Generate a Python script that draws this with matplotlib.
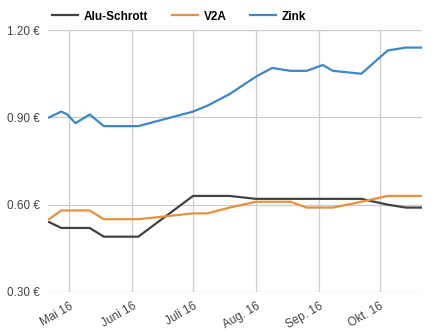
import datetime as dt
import matplotlib
matplotlib.use("Agg")
import matplotlib.pyplot as plt
import matplotlib.dates as mdates

plt.rcParams['font.family'] = ['Liberation Sans', 'DejaVu Sans']

dates = ["2016-04-21", "2016-04-27", "2016-04-30", "2016-05-04", "2016-05-11",
         "2016-05-18", "2016-06-04", "2016-07-01", "2016-07-08", "2016-07-19",
         "2016-08-01", "2016-08-09", "2016-08-18", "2016-08-26", "2016-09-03",
         "2016-09-08", "2016-09-22", "2016-10-05", "2016-10-14", "2016-10-22"]
alu = [0.54, 0.52, 0.52, 0.52, 0.52, 0.49, 0.49, 0.63, 0.63, 0.63,
       0.62, 0.62, 0.62, 0.62, 0.62, 0.62, 0.62, 0.60, 0.59, 0.59]
v2a = [0.55, 0.58, 0.58, 0.58, 0.58, 0.55, 0.55, 0.57, 0.57, 0.59,
       0.61, 0.61, 0.61, 0.59, 0.59, 0.59, 0.61, 0.63, 0.63, 0.63]
zink = [0.90, 0.92, 0.91, 0.88, 0.91, 0.87, 0.87, 0.92, 0.94, 0.98,
        1.04, 1.07, 1.06, 1.06, 1.08, 1.06, 1.05, 1.13, 1.14, 1.14]
series_names = ["Alu-Schrott", "V2A", "Zink"]
colors = ["#424242", "#e8913a", "#3d86c9"]

month_ticks = ["2016-05-01", "2016-06-01", "2016-07-01", "2016-08-01", "2016-09-01", "2016-10-01"]
month_labels = ["Mai 16", "Juni 16", "Juli 16", "Aug. 16", "Sep. 16", "Okt. 16"]
y_ticks = [0.30, 0.60, 0.90, 1.20]

x = [dt.datetime.strptime(d, "%Y-%m-%d") for d in dates]
xt = [dt.datetime.strptime(d, "%Y-%m-%d") for d in month_ticks]

fig = plt.figure(figsize=(4.33, 3.31), dpi=100)
ax = fig.add_axes([0.111, 0.118, 0.864, 0.791])

for vals, name, c in zip([alu, v2a, zink], series_names, colors):
    ax.plot(x, vals, color=c, lw=1.6, label=name, solid_joinstyle='round')

ax.set_xlim(x[0] - dt.timedelta(days=0.5), x[-1])
ax.set_ylim(0.30, 1.20)
ax.set_yticks(y_ticks)
ax.set_yticklabels([f"{v:.2f} €" for v in y_ticks])
ax.set_xticks(xt)
ax.set_xticklabels(month_labels, rotation=30, ha='right', rotation_mode='anchor')

ax.grid(True, color="#cccccc", lw=0.9)
ax.set_axisbelow(True)
for s in ax.spines.values():
    s.set_visible(False)
ax.tick_params(length=0, labelsize=8.5, colors="#444444")
ax.tick_params(axis='x', pad=6)
ax.tick_params(axis='y', pad=6)

leg = fig.legend(loc='upper left', bbox_to_anchor=(0.095, 1.0), ncol=3, frameon=False,
                 handlelength=2.2, columnspacing=2.0, handletextpad=0.5,
                 prop={'weight': 'bold', 'size': 8.5})

fig.savefig("out.png", dpi=100)
